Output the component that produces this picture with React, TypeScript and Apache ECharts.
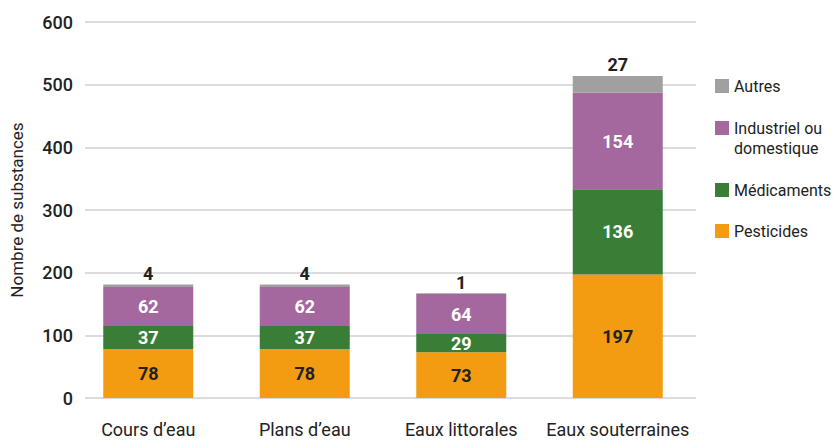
import React, { useEffect, useRef } from "react";
import * as echarts from "echarts";

const categories = ["Cours d’eau", "Plans d’eau", "Eaux littorales", "Eaux souterraines"];
const pesticides = [78, 78, 73, 197];
const medicaments = [37, 37, 29, 136];
const industriel = [62, 62, 64, 154];
const autres = [4, 4, 1, 27];
const yTicks = { min: 0, max: 600, interval: 100 };

const FONT = "'Roboto', 'Liberation Sans', sans-serif";
const C_ORANGE = "#f39c12";
const C_GREEN = "#3a7d36";
const C_PURPLE = "#a4679e";
const C_GREY = "#a0a0a0";
const DARK = "#222222";
const IND = "Industriel ou\ndomestique";

export default function App() {
  const ref = useRef<HTMLDivElement>(null);
  useEffect(() => {
    if (!ref.current) return;
    const chart = echarts.init(ref.current, null, { renderer: "svg" });
    const labelBase = { show: true, fontFamily: FONT, fontWeight: "bold", fontSize: 18 };
    const legendText = { fontFamily: FONT, fontSize: 16, color: DARK, lineHeight: 20 };
    const mkLegend = (name: string, top: number, extra: any = {}) => ({
      left: 715,
      top,
      orient: "vertical",
      itemWidth: 14,
      itemHeight: 14,
      itemGap: 0,
      padding: 0,
      icon: "rect",
      selectedMode: false,
      textStyle: { ...legendText },
      data: [name],
      ...extra,
    });
    chart.setOption({
      animation: false,
      textStyle: { fontFamily: FONT },
      grid: [
        { left: 85, right: 139, top: 22, bottom: 43 },
        { left: 70, right: 139, top: 22, bottom: 43 },
      ],
      legend: [
        mkLegend("Autres", 76),
        mkLegend(IND, 98, { formatter: (n: string) => "\n" + n }),
        mkLegend("Médicaments", 180),
        mkLegend("Pesticides", 221),
      ],
      xAxis: [
        { gridIndex: 0, type: "category", data: categories, show: false },
        {
          gridIndex: 1,
          type: "category",
          data: categories,
          axisLine: { show: false },
          axisTick: { show: false },
          axisLabel: {
            interval: 0,
            fontFamily: FONT,
            fontSize: 18,
            lineHeight: 20,
            color: DARK,
            margin: 21,
          },
        },
      ],
      yAxis: [
        {
          gridIndex: 0,
          type: "value",
          min: yTicks.min,
          max: yTicks.max,
          interval: yTicks.interval,
          axisLine: { show: false },
          axisTick: { show: false },
          axisLabel: { fontFamily: FONT, fontSize: 18, fontWeight: 500, color: DARK, margin: 12 },
          splitLine: { lineStyle: { color: "#dcdcdc", width: 2 } },
          name: "Nombre de substances",
          nameLocation: "middle",
          nameGap: 60,
          nameTextStyle: { fontFamily: FONT, fontSize: 17, color: DARK },
        },
        { gridIndex: 1, type: "value", min: yTicks.min, max: yTicks.max, show: false },
      ],
      series: [
        {
          name: "Pesticides",
          type: "bar",
          stack: "s",
          xAxisIndex: 1,
          yAxisIndex: 1,
          barWidth: 90,
          data: pesticides,
          itemStyle: { color: C_ORANGE },
          label: { ...labelBase, position: "inside", color: DARK },
        },
        {
          name: "Médicaments",
          type: "bar",
          stack: "s",
          xAxisIndex: 1,
          yAxisIndex: 1,
          barWidth: 90,
          data: medicaments,
          itemStyle: { color: C_GREEN },
          label: { ...labelBase, position: "inside", color: "#ffffff" },
        },
        {
          name: IND,
          type: "bar",
          stack: "s",
          xAxisIndex: 1,
          yAxisIndex: 1,
          barWidth: 90,
          data: industriel,
          itemStyle: { color: C_PURPLE },
          label: { ...labelBase, position: "inside", color: "#ffffff" },
        },
        {
          name: "Autres",
          type: "bar",
          stack: "s",
          xAxisIndex: 1,
          yAxisIndex: 1,
          barWidth: 90,
          data: autres,
          itemStyle: { color: C_GREY },
          label: { ...labelBase, position: "top", distance: 2, color: DARK },
        },
      ],
    });
    return () => chart.dispose();
  }, []);
  return <div ref={ref} style={{ width: 835, height: 441, position: "absolute", left: 0, top: 0 }} />;
}
